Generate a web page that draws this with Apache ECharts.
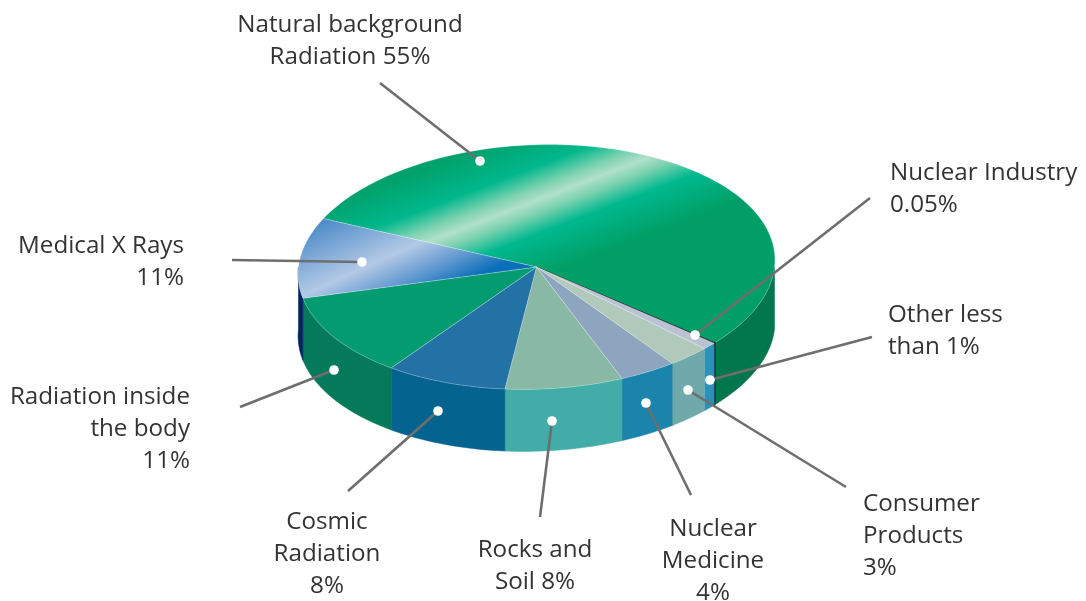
<!DOCTYPE html>
<html>
<head>
<meta charset="utf-8">
<style>html,body{margin:0;padding:0;background:#fff}#c{width:1086px;height:601px}</style>
<script src="https://cdn.jsdelivr.net/npm/echarts@6/dist/echarts.min.js"></script>
</head>
<body>
<div id="c"></div>
<script>
// clockwise from the Natural / Medical boundary
const categories = ['Natural background Radiation','Nuclear Industry','Other less than 1%','Consumer Products','Nuclear Medicine','Rocks and Soil','Cosmic Radiation','Radiation inside the body','Medical X Rays'];
const values = [55, 0.05, 1, 3, 4, 8, 8, 11, 11];
const labelTexts = ['Natural background\nRadiation 55%','Nuclear Industry\n0.05%','Other less\nthan 1%','Consumer\nProducts\n3%','Nuclear\nMedicine\n4%','Rocks and\nSoil 8%','Cosmic\nRadiation\n8%','Radiation inside\nthe body\n11%','Medical X Rays\n11%'];

// ---- styling / layout (not data) ----
const CX = 536.5, CY = 267, RX = 240.5, RY = 121, DEPTH = 62, START = 204.3;
const total = values.reduce((a, b) => a + b, 0);
const grad = (px, py, nx, ny, half, stops) => new echarts.graphic.LinearGradient(
  px - nx * half, py - ny * half, px + nx * half, py + ny * half,
  stops.map(s => ({offset: s[0], color: s[1]})), true);
const topFill = [
  grad(540, 199, .357, .934, 100, [[0,'#019f67'],[.16,'#01a26c'],[.34,'#00b78c'],[.44,'#7dd2b1'],[.5,'#b2e0ca'],[.56,'#7dd2b1'],[.66,'#00b88e'],[.86,'#019f67'],[1,'#019f67']]),
  '#111111', '#b9c1d4', '#b1c9ba', '#8ea5c0', '#89b8a5', '#2372a6', '#039b6f',
  grad(372, 264, .416, .909, 60, [[0,'#4c8bc8'],[.5,'#b3c9e6'],[.75,'#5f97d0'],[.95,'#0a6fb9'],[1,'#0a6fb9']])
];
const wallFill = ['#02774d','#111111','#2a92b8','#6fa9a9','#1a84ac','#42ada8','#05638f','#047a5b','#03245f'];

const anchors = [
  {a:'center',x:350,y:9},{a:'left',x:890,y:157},{a:'left',x:888,y:299},{a:'left',x:863,y:488},
  {a:'center',x:713,y:513},{a:'center',x:535,y:534},{a:'center',x:327,y:506},{a:'right',x:190,y:381},{a:'right',x:184,y:230}
];
const leaders = [
  [380,83,480,161],[870,198,695,335],[872,337,710,380],[846,487,688,390],
  [691,495,646,403],[540,517,552,421],[348,491,438,411],[240,407,334,370],[232,260,362,262]
];

// the printed disc is very slightly tilted: major axis runs lower-left to upper-right
function pt(t, dy) {
  const r = t * Math.PI / 180, k = 1 - .03 * Math.cos(2 * (r - 35 * Math.PI / 180));
  return [CX + k * RX * Math.cos(r), CY + k * RY * Math.sin(r) + (dy || 0)];
}
function arc(a, b, dy) {
  const n = Math.max(2, Math.ceil(Math.abs(b - a) / 1.5)), out = [];
  for (let i = 0; i <= n; i++) out.push(pt(a + (b - a) * i / n, dy));
  return out;
}
function renderItem(params, api) {
  const i = params.dataIndex;
  let before = 0;
  for (let k = 0; k < i; k++) before += values[k];
  const a = START + before / total * 360, b = a + api.value(0) / total * 360;
  const kids = [];
  // wall: only the front half of the rim (sin > 0) is visible
  const ranges = [[Math.max(a, 360), Math.min(b, 540)], [Math.max(a, 720), Math.min(b, 900)]];
  ranges.forEach(r => {
    if (r[1] <= r[0]) return;
    const top = arc(r[0], r[1], 0), bot = arc(r[1], r[0], DEPTH);
    kids.push({type:'polygon', shape:{points: top.concat(bot)},
      style:{fill: wallFill[i], stroke: wallFill[i], lineWidth: i === 1 ? 1.4 : .5}});
  });
  kids.push({type:'polygon', shape:{points: [[CX, CY]].concat(arc(a, b, 0))},
    style: i === 1 ? {fill: topFill[i], stroke:'#222', lineWidth:1.2}
                   : {fill: topFill[i], stroke:'rgba(255,255,255,.35)', lineWidth:.7}});
  return {type:'group', children: kids};
}

const chart = echarts.init(document.getElementById('c'));
const graphics = [];
leaders.forEach(l => {
  graphics.push({type:'line', z:10, shape:{x1:l[0],y1:l[1],x2:l[2],y2:l[3]}, style:{stroke:'#6e6e6e', lineWidth:2.6}});
  graphics.push({type:'circle', z:11, shape:{cx:l[2],cy:l[3],r:4.8}, style:{fill:'#ffffff'}});
});
labelTexts.forEach((t, i) => {
  graphics.push({type:'text', z:12, x:anchors[i].x, y:anchors[i].y,
    style:{text:t, align:anchors[i].a, verticalAlign:'top', fill:'#333333',
      font:'24.2px "Open Sans"', lineHeight:32}});
});
chart.setOption({
  animation:false,
  backgroundColor:'#ffffff',
  series:[{type:'custom', coordinateSystem:'none', silent:true, renderItem,
    data: values.map((v, i) => ({name: categories[i], value: [v]}))}],
  graphic: graphics
});
</script>
</body>
</html>
